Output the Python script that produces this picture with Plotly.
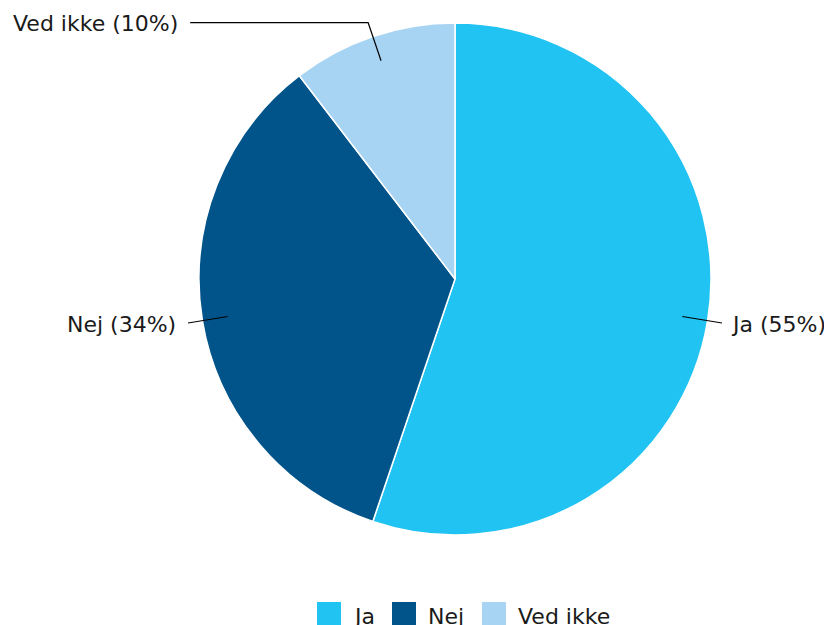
import math
import plotly.graph_objects as go

labels = ["Ja", "Nej", "Ved ikke"]
values = [55.2, 34.4, 10.4]
pct_text = ["55%", "34%", "10%"]
colors = ["#21C3F3", "#00548A", "#A8D4F3"]

# the page body has an 8px margin; work in page pixels and subtract it
OFF = 8
W, H = 832 - OFF, 625 - OFF
CX, CY, R = 455, 279, 256  # pie centre and radius in page px
FONT = "DejaVu Sans, Verdana, sans-serif"
FS = 22
TXT = "#1a1a1a"

def px(x, y):
    return (x - OFF) / W, 1 - (y - OFF) / H

fig = go.Figure()
fx0, fy0 = px(CX - R, CY + R)
fx1, fy1 = px(CX + R, CY - R)
fig.add_trace(go.Pie(
    labels=labels, values=values, sort=False, direction="clockwise", rotation=0,
    marker=dict(colors=colors, line=dict(color="white", width=1.5)),
    textinfo="none", hoverinfo="label+percent", showlegend=False,
    domain=dict(x=[fx0, fx1], y=[fy0, fy1]),
))

total = sum(values)
cum = 0
shapes, annotations = [], []
for lab, v, p in zip(labels, values, pct_text):
    mid = (cum + v / 2) / total * 2 * math.pi
    cum += v
    sx, sy = math.sin(mid), -math.cos(mid)
    x1, y1 = CX + 0.9 * R * sx, CY + 0.9 * R * sy
    x2, y2 = CX + 1.057 * R * sx, CY + 1.057 * R * sy
    pts = [(x1, y1), (x2, y2)]
    right = sx > 0
    if abs(sy) > 0.8:
        x3 = x2 + (180 if right else -178)
        pts.append((x3, y2))
    tx, ty = pts[-1]
    path = "M " + " L ".join(f"{px(a, b)[0]},{px(a, b)[1]}" for a, b in pts)
    shapes.append(dict(type="path", xref="paper", yref="paper", path=path,
                       line=dict(color="black", width=1.2)))
    ax, ay = px(tx + (7 if right else -10), ty + 1)
    annotations.append(dict(x=ax, y=ay, xref="paper", yref="paper", showarrow=False,
                            text=f"{lab} ({p})", xanchor="left" if right else "right",
                            yanchor="middle", font=dict(family=FONT, size=FS, color=TXT)))

# legend drawn as boxes + text (large 24px swatches)
legend_x = [317, 392, 482]
LEG_TOP, SW = 602, 24
for lab, col, lx in zip(labels, colors, legend_x):
    a0, b0 = px(lx, LEG_TOP + SW)
    a1, b1 = px(lx + SW, LEG_TOP)
    shapes.append(dict(type="rect", xref="paper", yref="paper", x0=a0, x1=a1, y0=b0, y1=b1,
                       fillcolor=col, line=dict(width=0)))
    tx, ty = px(lx + SW + 10, LEG_TOP + 14)
    annotations.append(dict(x=tx, y=ty, xref="paper", yref="paper", showarrow=False,
                            text=lab, xanchor="left", yanchor="middle",
                            font=dict(family=FONT, size=FS, color=TXT)))

fig.update_layout(
    width=W, height=H, margin=dict(l=0, r=0, t=0, b=0),
    paper_bgcolor="white", plot_bgcolor="white",
    font=dict(family=FONT, size=FS, color=TXT),
    shapes=shapes, annotations=annotations, showlegend=False,
)
fig.write_html("out.html")
